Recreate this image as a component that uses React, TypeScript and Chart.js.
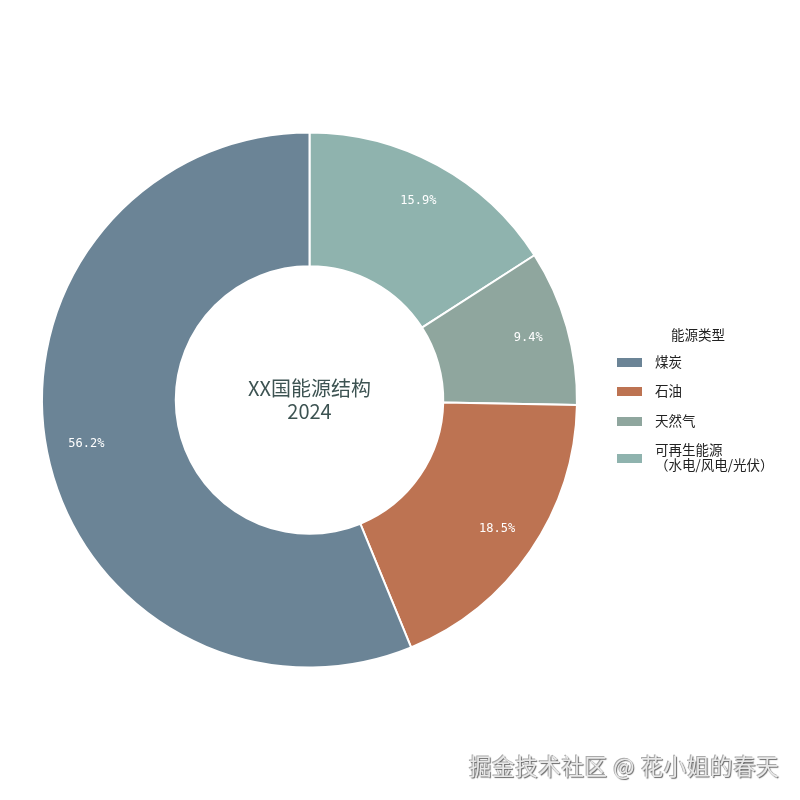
import React, { useEffect, useRef } from "react";
import { Chart, registerables } from "chart.js";

Chart.register(...registerables);

const categories = ["煤炭", "石油", "天然气", "可再生能源\n（水电/风电/光伏）"];
const shares = [56.2, 18.5, 9.4, 15.9];
const colors = ["#6b8496", "#bd7352", "#8fa69e", "#8fb3ae"];
const legendTitle = "能源类型";
const centerLines = ["XX国能源结构", "2024"];
const watermark = "掘金技术社区 @ 花小姐的春天";

const FONT = "'Noto Sans CJK SC', 'DejaVu Sans', sans-serif";

export default function App() {
  const ref = useRef<HTMLCanvasElement | null>(null);

  useEffect(() => {
    if (!ref.current) return;
    // matplotlib draws counter-clockwise from top; Chart.js draws clockwise -> reverse order
    const order = [3, 2, 1, 0];
    const data = order.map((i) => shares[i]);
    const bg = order.map((i) => colors[i]);
    const labels = order.map((i) => categories[i]);

    const labelPlugin = {
      id: "pctLabels",
      afterDatasetsDraw(chart: any) {
        const ctx = chart.ctx;
        const meta = chart.getDatasetMeta(0);
        ctx.save();
        ctx.font = "12px 'DejaVu Sans Mono', monospace";
        ctx.fillStyle = "#ffffff";
        ctx.textAlign = "center";
        ctx.textBaseline = "middle";
        meta.data.forEach((arc: any, i: number) => {
          const p = arc.getProps(["x", "y", "startAngle", "endAngle", "outerRadius"], true);
          const mid = (p.startAngle + p.endAngle) / 2;
          const r = p.outerRadius * 0.85;
          ctx.fillText(data[i].toFixed(1) + "%", p.x + Math.cos(mid) * r, p.y + Math.sin(mid) * r);
        });
        const a0 = meta.data[0];
        ctx.font = "20px " + FONT;
        ctx.fillStyle = "#3d5352";
        ctx.fillText(centerLines[0], a0.x, a0.y - 12);
        ctx.fillText(centerLines[1], a0.x, a0.y + 11);
        ctx.restore();
      },
    };

    const chart = new Chart(ref.current, {
      type: "doughnut",
      data: {
        labels,
        datasets: [
          {
            data,
            backgroundColor: bg,
            borderColor: "#ffffff",
            borderWidth: 2,
            hoverOffset: 0,
          },
        ],
      },
      options: {
        animation: false,
        responsive: false,
        cutout: "50%",
        rotation: 0,
        layout: { padding: { left: 41, right: 222, top: 131, bottom: 131 } },
        plugins: {
          legend: { display: false },
          tooltip: { enabled: false },
        },
      },
      plugins: [labelPlugin],
    });
    return () => chart.destroy();
  }, []);

  const rowCenters = [362, 391, 421, 458];

  return (
    <div style={{ position: "absolute", left: 0, top: 0, width: 800, height: 800, background: "#fff", fontFamily: FONT }}>
      <canvas ref={ref} width={800} height={800} style={{ position: "absolute", left: 0, top: 0 }} />
      <div style={{ position: "absolute", left: 648, width: 100, textAlign: "center", top: 324, fontSize: 13.5, color: "#222", lineHeight: "20px" }}>
        {legendTitle}
      </div>
      {categories.map((c, i) => {
        const lines = c.split("\n");
        const h = lines.length * 15;
        return (
          <React.Fragment key={i}>
            <div style={{ position: "absolute", left: 617, top: rowCenters[i] - 4, width: 25, height: 9, background: colors[i] }} />
            <div
              style={{
                position: "absolute",
                left: 655,
                top: rowCenters[i] - h / 2 - 1,
                whiteSpace: "pre",
                fontSize: 13.5,
                lineHeight: "15px",
                color: "#222",
              }}
            >
              {c}
            </div>
          </React.Fragment>
        );
      })}
      <div
        style={{
          position: "absolute",
          left: 469,
          top: 749,
          fontSize: 22.5,
          letterSpacing: 0.6,
          color: "#e8e8e8",
          textShadow: "1px 1px 1px #666, -1px -1px 0 #aaa",
          whiteSpace: "nowrap",
        }}
      >
        {watermark}
      </div>
    </div>
  );
}
